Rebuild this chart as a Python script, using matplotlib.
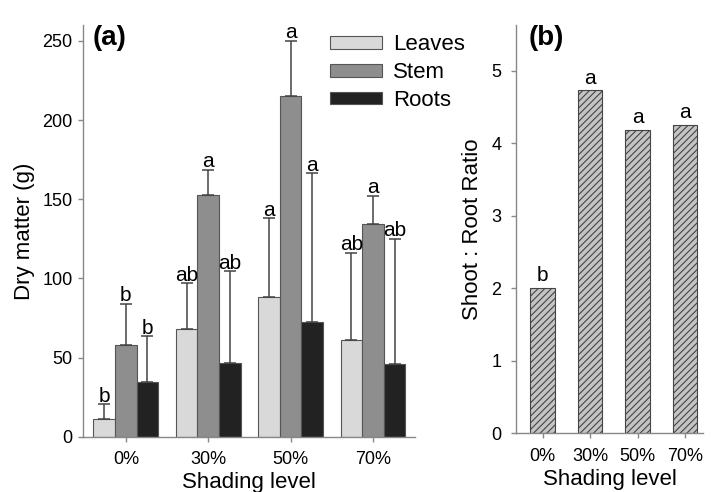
import numpy as np
import matplotlib
matplotlib.use("Agg")
import matplotlib.pyplot as plt

plt.rcParams["font.family"] = ["Liberation Sans", "DejaVu Sans"]

# ── Data ──────────────────────────────────────────────────────────────────────
shading = ["0%", "30%", "50%", "70%"]
organs = ["Leaves", "Stem", "Roots"]

leaves = [11, 68, 88, 61]
leaves_err = [9.5, 29, 50, 55]
stem = [58, 152.5, 215, 134.5]
stem_err = [26, 16, 35, 17.5]
roots = [34.5, 46.5, 72.5, 46]
roots_err = [29, 58, 94, 79]

leaves_sig = ["b", "ab", "a", "ab"]
stem_sig = ["b", "a", "a", "a"]
roots_sig = ["b", "ab", "a", "ab"]

ratio = [2.01, 4.73, 4.18, 4.25]
ratio_sig = ["b", "a", "a", "a"]

COLORS = {"Leaves": "#d9d9d9", "Stem": "#8e8e8e", "Roots": "#222222"}
EDGE = "#555555"
SPINE = "#888888"

fig = plt.figure(figsize=(7.13, 4.92), dpi=100)
ax = fig.add_axes([0.1164, 0.1124, 0.4656, 0.8366])
ax2 = fig.add_axes([0.7237, 0.1193, 0.2623, 0.8297])


def style_axes(a, ypad):
    for s in ["top", "right"]:
        a.spines[s].set_visible(False)
    for s in ["left", "bottom"]:
        a.spines[s].set_color(SPINE)
        a.spines[s].set_linewidth(1.0)
    a.tick_params(axis="both", colors=SPINE, labelcolor="black", labelsize=13,
                  direction="out", length=3.5, width=1.0)
    a.tick_params(axis="x", pad=7)
    a.tick_params(axis="y", pad=ypad)


# ── Panel (a) ─────────────────────────────────────────────────────────────────
x = np.arange(len(shading))
w = 0.262
series = [(leaves, leaves_err, leaves_sig), (stem, stem_err, stem_sig), (roots, roots_err, roots_sig)]
for k, (name, (vals, errs, sig)) in enumerate(zip(organs, series)):
    xs = x + (k - 1) * w
    ax.bar(xs, vals, w, color=COLORS[name], edgecolor=EDGE, linewidth=0.8, label=name, zorder=2)
    ax.errorbar(xs, vals, yerr=[np.zeros(len(vals)), errs], fmt="none",
                ecolor="#444444", elinewidth=1.1, capsize=4, capthick=1.1, zorder=3)
    for xi, v, e, s in zip(xs, vals, errs, sig):
        ax.annotate(s, (xi, v + e), xytext=(0, -1), textcoords="offset points",
                    ha="center", va="bottom", fontsize=15)

ax.set_xlim(-0.52, 3.51)
ax.set_ylim(0, 260)
ax.set_yticks([0, 50, 100, 150, 200, 250])
ax.set_xticks(x)
ax.set_xticklabels(shading)
ax.set_xlabel("Shading level", fontsize=16, labelpad=3)
ax.set_ylabel("Dry matter (g)", fontsize=16, labelpad=5)
style_axes(ax, ypad=4)
ax.text(0.03, 1.0, "(a)", transform=ax.transAxes, fontsize=20, fontweight="bold",
        ha="left", va="top")

ax.legend(loc="upper left", bbox_to_anchor=(330 / 713, 1 - 34.5 / 492), bbox_transform=fig.transFigure,
          frameon=False, fontsize=16, handlelength=2.35, handleheight=0.5,
          handletextpad=0.5, labelspacing=0.3, borderpad=0, borderaxespad=0)

# ── Panel (b) ─────────────────────────────────────────────────────────────────
plt.rcParams["hatch.color"] = "#444444"
plt.rcParams["hatch.linewidth"] = 0.8
ax2.bar(x, ratio, 0.52, color="#c4c4c4", edgecolor="#444444", linewidth=0.8, hatch="/////", zorder=2)
for xi, v, s in zip(x, ratio, ratio_sig):
    ax2.annotate(s, (xi, v), xytext=(0, 2), textcoords="offset points",
                 ha="center", va="bottom", fontsize=15)
ax2.set_xlim(-0.56, 3.38)
ax2.set_ylim(0, 5.63)
ax2.set_yticks([0, 1, 2, 3, 4, 5])
ax2.set_xticks(x)
ax2.set_xticklabels(shading)
ax2.set_xlabel("Shading level", fontsize=16, labelpad=3)
ax2.set_ylabel("Shoot : Root Ratio", fontsize=16, labelpad=6)
style_axes(ax2, ypad=7)
ax2.text(0.07, 1.0, "(b)", transform=ax2.transAxes, fontsize=20, fontweight="bold",
         ha="left", va="top")

fig.savefig("out.png", dpi=100)
